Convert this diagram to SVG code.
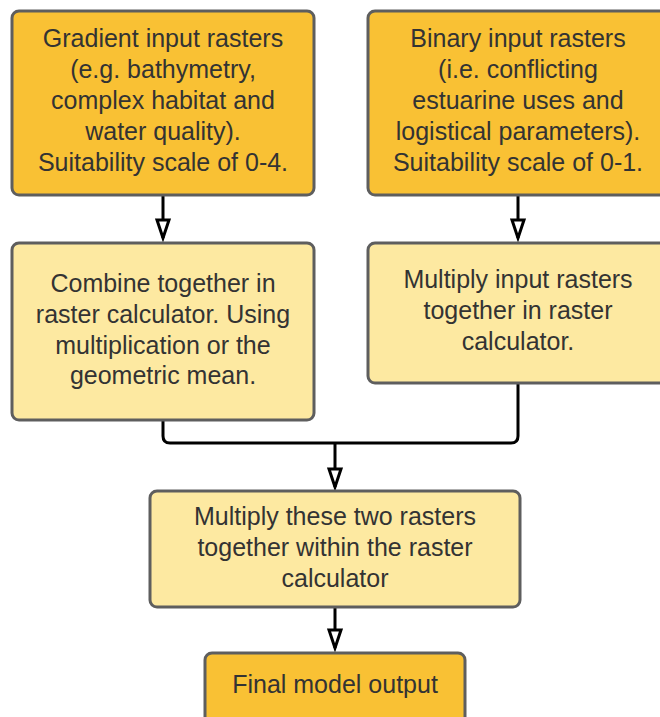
<svg xmlns="http://www.w3.org/2000/svg" width="660" height="717" viewBox="0 0 660 717">
<style>
.box{stroke:#5e5e5e;stroke-width:3}
.dark{fill:#f9c134}
.light{fill:#fde9a1}
text{font-family:"Liberation Sans",Arial,sans-serif;font-size:25px;fill:#333333;text-anchor:middle}
.conn{fill:none;stroke:#000;stroke-width:3;stroke-linejoin:round}
</style>
<defs>
<marker id="arr" markerUnits="userSpaceOnUse" markerWidth="24" markerHeight="18" refX="20" refY="8" orient="auto" viewBox="0 0 24 16">
<path d="M2,2 L2,14 L20,8 Z" fill="#fff" stroke="#000" stroke-width="3" stroke-linejoin="miter"/>
</marker>
</defs>
<rect width="660" height="717" fill="#fff"/>
<g id="connectors">
<path class="conn" d="M163,195 V238" marker-end="url(#arr)"/>
<path class="conn" d="M518,195 V238" marker-end="url(#arr)"/>
<path class="conn" d="M163,420 V436 Q163,443 170,443 H511 Q518,443 518,436 V383"/>
<path class="conn" d="M335,443 V487" marker-end="url(#arr)"/>
<path class="conn" d="M335,607 V648" marker-end="url(#arr)"/>
</g>
<g id="n1">
<rect class="box dark" x="12" y="11" width="302" height="184" rx="7"/>
<text x="163" y="47">Gradient input rasters</text>
<text x="163" y="78">(e.g. bathymetry,</text>
<text x="163" y="109">complex habitat and</text>
<text x="163" y="140">water quality).</text>
<text x="163" y="171">Suitability scale of 0-4.</text>
</g>
<g id="n2">
<rect class="box dark" x="368" y="11" width="300" height="184" rx="7"/>
<text x="518" y="47">Binary input rasters</text>
<text x="518" y="78">(i.e. conflicting</text>
<text x="518" y="109">estuarine uses and</text>
<text x="518" y="140">logistical parameters).</text>
<text x="518" y="171">Suitability scale of 0-1.</text>
</g>
<g id="n3">
<rect class="box light" x="12" y="243" width="302" height="177" rx="7"/>
<text x="163" y="292">Combine together in</text>
<text x="163" y="323">raster calculator. Using</text>
<text x="163" y="354">multiplication or the</text>
<text x="163" y="384">geometric mean.</text>
</g>
<g id="n4">
<rect class="box light" x="368" y="243" width="300" height="140" rx="7"/>
<text x="518" y="288">Multiply input rasters</text>
<text x="518" y="319">together in raster</text>
<text x="518" y="350">calculator.</text>
</g>
<g id="n5">
<rect class="box light" x="150" y="491" width="370" height="116" rx="7"/>
<text x="335" y="525">Multiply these two rasters</text>
<text x="335" y="556">together within the raster</text>
<text x="335" y="587">calculator</text>
</g>
<g id="n6">
<rect class="box dark" x="205" y="653" width="260" height="80" rx="7"/>
<text x="335" y="693">Final model output</text>
</g>
</svg>
